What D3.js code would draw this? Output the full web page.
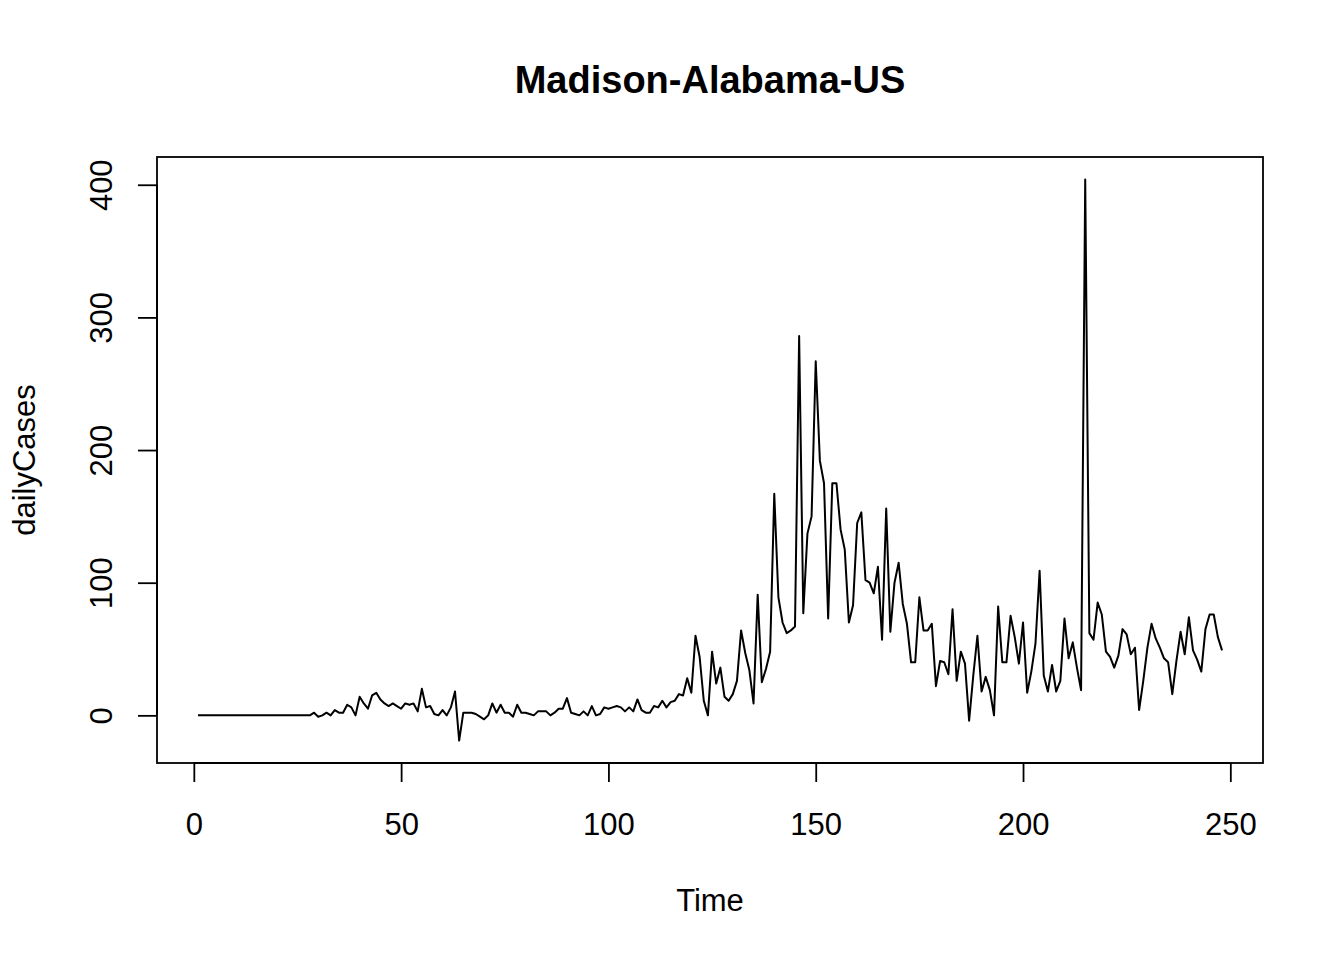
<!DOCTYPE html>
<html>
<head>
<meta charset="utf-8">
<script src="https://cdn.jsdelivr.net/npm/d3@7"></script>
<style>
    body { margin: 0; background: #fff; }
    text { font-family: "Liberation Sans", Arial, sans-serif; fill: #000; }
</style>
</head>
<body>
<div id="chart"></div>
<script>
'use strict';

// daily new cases, one value per day starting at Time = 1
var dailyCases = [
    0, 0, 0, 0, 0, 0, 0, 0, 0, 0,
    0, 0, 0, 0, 0, 0, 0, 0, 0, 0,
    0, 0, 0, 0, 0, 0, 0, 0, 2, -1,
    0, 2, 0, 4, 2, 2, 8, 6, 0, 14,
    9, 5, 15, 17, 12, 9, 7, 9, 7, 5,
    9, 8, 9, 3, 20, 6, 7, 1, 0, 4,
    0, 6, 18, -19, 2, 2, 2, 1, -1, -3,
    0, 9, 2, 8, 2, 2, -1, 8, 2, 2,
    1, 0, 3, 3, 3, 0, 2, 5, 5, 13,
    2, 1, 0, 3, 0, 7, 0, 1, 6, 5,
    6, 7, 6, 3, 6, 3, 12, 4, 2, 2,
    7, 6, 11, 6, 10, 11, 16, 15, 28, 17,
    60, 44, 11, 0, 48, 24, 36, 14, 11, 16,
    26, 64, 47, 34, 9, 91, 25, 35, 48, 167,
    89, 70, 62, 64, 67, 286, 77, 137, 150, 267,
    192, 175, 73, 175, 175, 140, 125, 70, 83, 145,
    153, 102, 100, 92, 112, 57, 156, 63, 100, 115,
    84, 69, 40, 40, 89, 64, 64, 69, 22, 41,
    40, 31, 80, 26, 48, 39, -4, 30, 60, 18,
    29, 19, 0, 82, 40, 40, 75, 59, 39, 70,
    17, 33, 54, 109, 30, 18, 38, 18, 26, 73,
    43, 55, 36, 19, 404, 62, 57, 85, 76, 48,
    44, 36, 45, 65, 61, 46, 51, 4, 26, 51,
    69, 58, 51, 43, 40, 16, 41, 63, 46, 74,
    49, 42, 33, 65, 76, 76, 59, 49
];
var xTicks = [0, 50, 100, 150, 200, 250];
var yTicks = [0, 100, 200, 300, 400];
var titleText = "Madison-Alabama-US";
var xLabel = "Time";
var yLabel = "dailyCases";

var width = 1344,
    height = 960;
// plot region (the box)
var margin = { top: 157, right: 81, bottom: 197, left: 157 };
var innerW = width - margin.left - margin.right,
    innerH = height - margin.top - margin.bottom;

var series = dailyCases.map(function (v, i) {
    return { time: i + 1, value: v };
});

// R style axis ranges: data range plus 4% each side
function padded(ext) {
    var d = (ext[1] - ext[0]) * 0.04;
    return [ext[0] - d, ext[1] + d];
}

var x = d3.scaleLinear()
    .domain(padded(d3.extent(series, function (d) { return d.time; })))
    .range([0, innerW]);
var y = d3.scaleLinear()
    .domain(padded(d3.extent(series, function (d) { return d.value; })))
    .range([innerH, 0]);

var svg = d3.select("#chart").append("svg")
    .attr("width", width)
    .attr("height", height);

var g = svg.append("g")
    .attr("transform", "translate(" + margin.left + "," + margin.top + ")");

// the line
var line = d3.line()
    .x(function (d) { return x(d.time); })
    .y(function (d) { return y(d.value); });

g.append("path")
    .datum(series)
    .attr("fill", "none")
    .attr("stroke", "#000")
    .attr("stroke-width", 2)
    .attr("stroke-linejoin", "round")
    .attr("d", line);

// box
g.append("rect")
    .attr("x", 0)
    .attr("y", 0)
    .attr("width", innerW)
    .attr("height", innerH)
    .attr("fill", "none")
    .attr("stroke", "#000")
    .attr("stroke-width", 1.8);

// x axis
var xAxis = g.append("g")
    .attr("transform", "translate(0," + innerH + ")")
    .call(d3.axisBottom(x).tickValues(xTicks).tickSize(19).tickPadding(0).tickFormat(d3.format("d")));
xAxis.select(".domain")
    .attr("d", "M" + x(xTicks[0]) + ",0H" + x(xTicks[xTicks.length - 1]))
    .attr("stroke-width", 1.8);
xAxis.selectAll(".tick line").attr("stroke-width", 1.8);
xAxis.selectAll(".tick text")
    .attr("y", 0)
    .attr("dy", null)
    .attr("transform", "translate(0,72)")
    .style("font-size", "31px")
    .style("font-family", "'Liberation Sans', Arial, sans-serif");

// y axis
var yAxis = g.append("g")
    .call(d3.axisLeft(y).tickValues(yTicks).tickSize(19).tickPadding(0).tickFormat(d3.format("d")));
yAxis.select(".domain")
    .attr("d", "M0," + y(yTicks[0]) + "V" + y(yTicks[yTicks.length - 1]))
    .attr("stroke-width", 1.8);
yAxis.selectAll(".tick line").attr("stroke-width", 1.8);
yAxis.selectAll(".tick text")
    .attr("x", null)
    .attr("dy", null)
    .attr("text-anchor", "middle")
    .attr("transform", "translate(-45,0) rotate(-90)")
    .style("font-size", "31px")
    .style("font-family", "'Liberation Sans', Arial, sans-serif");

// title and axis labels
svg.append("text")
    .attr("x", margin.left + innerW / 2)
    .attr("y", 93)
    .attr("text-anchor", "middle")
    .style("font-size", "38px")
    .style("font-weight", "bold")
    .text(titleText);

svg.append("text")
    .attr("x", margin.left + innerW / 2)
    .attr("y", 911)
    .attr("text-anchor", "middle")
    .style("font-size", "31px")
    .text(xLabel);

svg.append("text")
    .attr("transform", "translate(35," + (margin.top + innerH / 2) + ") rotate(-90)")
    .attr("text-anchor", "middle")
    .style("font-size", "31px")
    .text(yLabel);
</script>
</body>
</html>
